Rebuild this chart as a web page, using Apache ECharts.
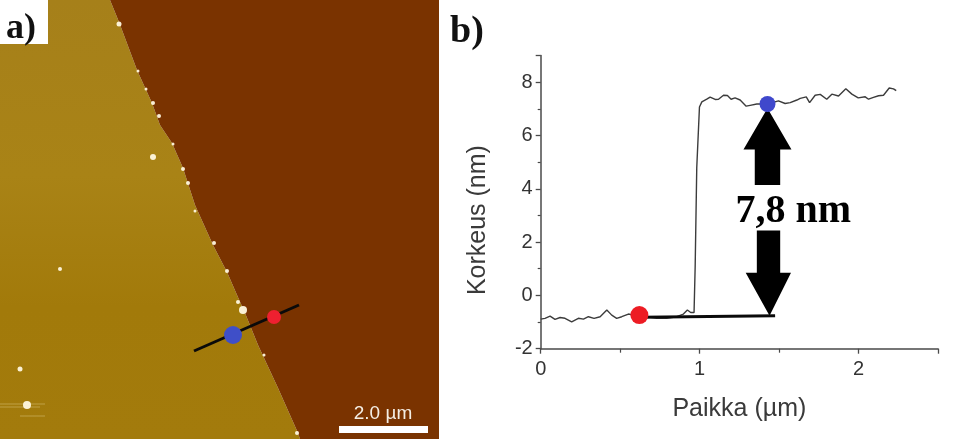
<!DOCTYPE html>
<html><head><meta charset="utf-8">
<style>html,body{margin:0;padding:0;background:#fff}#c{width:968px;height:439px;filter:blur(0.55px)}</style>
<script src="https://cdn.jsdelivr.net/npm/echarts@6/dist/echarts.min.js"></script>
</head><body><div id="c"></div>
<script>
// Panel b: height profile
const profile = [[0,-.89],[.027,-.86],[.059,-.78],[.09,-.9],[.122,-.83],[.153,-.86],[.195,-.99],[.237,-.86],[.269,-.89],[.3,-.8],[.336,-.86],[.374,-.8],[.416,-.55],[.447,-.74],[.478,-.86],[.51,-.8],[.552,-.7],[.583,-.74],[.621,-.74],[.667,-.8],[.73,-.86],[.793,-.86],[.856,-.8],[.898,-.7],[.923,-.55],[.944,-.64],[.965,-.64],[.972,1.08],[.982,4.8],[.999,7.07],[1.014,7.26],[1.045,7.36],[1.066,7.44],[1.098,7.35],[1.119,7.36],[1.15,7.51],[1.175,7.5],[1.198,7.36],[1.223,7.41],[1.255,7.33],[1.293,7.1],[1.318,7.13],[1.36,7.18],[1.427,7.18],[1.496,7.3],[1.538,7.2],[1.57,7.23],[1.612,7.33],[1.633,7.39],[1.671,7.45],[1.692,7.23],[1.727,7.51],[1.759,7.54],[1.8,7.36],[1.832,7.55],[1.874,7.48],[1.92,7.75],[1.958,7.55],[1.998,7.41],[2.042,7.45],[2.063,7.36],[2.094,7.43],[2.126,7.49],[2.157,7.51],[2.193,7.78],[2.22,7.75],[2.237,7.68]];
const baseline = [[.64,-.82],[1.475,-.76]];
const redPoint = [.621,-.74];
const bluePoint = [1.427,7.18];
const upArrow = [[1.427,7.02],[1.578,5.47],[1.507,5.47],[1.507,4.14],[1.347,4.14],[1.347,5.47],[1.276,5.47]];
const downArrow = [[1.36,2.43],[1.507,2.43],[1.507,.85],[1.575,.85],[1.44,-.76],[1.29,.85],[1.36,.85]];
const heightLabel = '7,8 nm';
const heightLabelAt = [1.59,3.15];
const xName = 'Paikka (µm)';
const yName = 'Korkeus (nm)';

// Panel a: AFM image, in image units (0-439)
const goldRegion = [[0,0],[110,0],[119,22],[137,70],[152,103],[160,125],[172,143],[183,168],[195,205],[213,245],[227,272],[237,295],[245,313],[258,345],[278,388],[298,433],[300,439],[0,439]];
const brownRegion = [[110,0],[439,0],[439,439],[300,439],[298,433],[278,388],[258,345],[245,313],[237,295],[227,272],[213,245],[195,205],[183,168],[172,143],[160,125],[152,103],[137,70],[119,22]];
const labelBox = [[0,0],[48,0],[48,44],[0,44]];
const scaleBar = [[339,426],[428,426],[428,433],[339,433]];
const scaleLabel = '2.0 µm';
const scaleLabelAt = [383,414];
const specks = [[119,24,5],[153,157,6],[60,269,4],[20,369,5],[27,405,8],[243,310,8],[138,71,3],[146,89,3],[153,103,4],[159,116,4],[173,144,3],[183,169,4],[188,183,4],[195,211,3],[214,243,4],[227,271,4],[238,302,4],[264,355,3],[297,433,4]];
const streaks = [[[0,404],[45,404]],[[0,407],[40,407]],[[20,416],[45,416]]];
const traverse = [[194,351],[299,305]];
const traverseBlue = [233,335];
const traverseRed = [274,317];

function poly(pts, fill, grid, z){
  return {type:'custom',xAxisIndex:grid,yAxisIndex:grid,silent:true,z:z,clip:false,data:[0],
    renderItem:(p,api)=>({type:'polygon',shape:{points:pts.map(q=>api.coord(q))},style:{fill:fill}})};
}
const goldFill = {type:'linear',x:0,y:0,x2:0,y2:1,colorStops:[{offset:0,color:'#a6801a'},{offset:.4,color:'#a98316'},{offset:.7,color:'#a27a0a'},{offset:1,color:'#a37b0c'}]};
const chart = echarts.init(document.getElementById('c'));
const darkAxis = {lineStyle:{color:'#4a4a4a',width:1.5}};
const op1 = {opacity:1};
chart.setOption({
  animation:false,
  backgroundColor:'#fff',
  title:[
    {text:'a)',left:1,top:6,textStyle:{fontFamily:'Liberation Serif',fontWeight:'bold',fontSize:36,color:'#111'}},
    {text:'b)',left:445,top:8,textStyle:{fontFamily:'Liberation Serif',fontWeight:'bold',fontSize:38,color:'#111'}}
  ],
  grid:[
    {left:0,top:0,width:439,height:439,show:false},
    {left:540.7,top:55.5,width:397.3,height:293.2,show:false}
  ],
  xAxis:[
    {gridIndex:0,type:'value',min:0,max:439,show:false},
    {gridIndex:1,type:'value',min:0,max:2.5,interval:1,axisLine:{show:true,onZero:false,...darkAxis},
      axisTick:{show:true,length:5,lineStyle:{color:'#4a4a4a',width:1.3}},
      minorTick:{show:true,splitNumber:2,length:4,lineStyle:{color:'#4a4a4a',width:1.2}},splitLine:{show:false},
      axisLabel:{showMaxLabel:false,margin:11,fontFamily:'Liberation Sans',fontSize:20,color:'#333',formatter:v=>Number.isInteger(v)?String(v):''},
      name:xName,nameLocation:'middle',nameGap:48,nameTextStyle:{fontFamily:'Liberation Sans',fontSize:25,color:'#3a3a3a'}}
  ],
  yAxis:[
    {gridIndex:0,type:'value',min:0,max:439,inverse:true,show:false},
    {gridIndex:1,type:'value',min:-2,max:9,interval:2,axisLine:{show:true,onZero:false,...darkAxis},
      axisTick:{show:true,length:5,lineStyle:{color:'#4a4a4a',width:1.3}},
      minorTick:{show:true,splitNumber:2,length:3,lineStyle:{color:'#4a4a4a',width:1.2}},splitLine:{show:false},
      axisLabel:{showMaxLabel:false,margin:8,fontFamily:'Liberation Sans',fontSize:20,color:'#333',formatter:v=>v%2===0?String(v):''},
      name:yName,nameLocation:'middle',nameGap:50,nameTextStyle:{fontFamily:'Liberation Sans',fontSize:25,color:'#3a3a3a',padding:[0,36,0,0]}}
  ],
  series:[
    poly(goldRegion,goldFill,0,1),
    poly(brownRegion,'#7a3300',0,1),
    ...streaks.map(s=>({type:'line',xAxisIndex:0,yAxisIndex:0,silent:true,z:2,symbol:'none',data:s,lineStyle:{color:'#d8c27a',width:1,opacity:.55}})),
    {type:'scatter',xAxisIndex:0,yAxisIndex:0,silent:true,z:3,data:specks.map(s=>[s[0],s[1]]),symbolSize:(v,p)=>specks[p.dataIndex][2],itemStyle:{color:'#fff8e0',opacity:.95}},
    {type:'line',xAxisIndex:0,yAxisIndex:0,silent:true,z:4,symbol:'none',data:traverse,lineStyle:{color:'#0a0a0a',width:3}},
    {type:'scatter',xAxisIndex:0,yAxisIndex:0,silent:true,z:5,data:[traverseBlue],symbolSize:18,itemStyle:{color:'#3f4fc8',...op1}},
    {type:'scatter',xAxisIndex:0,yAxisIndex:0,silent:true,z:5,data:[traverseRed],symbolSize:14,itemStyle:{color:'#ee2030',...op1}},
    poly(labelBox,'#ffffff',0,6),
    poly(scaleBar,'#ffffff',0,6),
    {type:'scatter',xAxisIndex:0,yAxisIndex:0,silent:true,z:6,data:[scaleLabelAt],symbolSize:0,itemStyle:op1,
      label:{show:true,position:'inside',formatter:scaleLabel,fontFamily:'Liberation Sans',fontSize:19,color:'#f4eee4'}},

    {type:'line',xAxisIndex:1,yAxisIndex:1,silent:true,z:3,symbol:'none',data:profile,lineStyle:{color:'#3c3c3c',width:1.4}},
    {type:'line',xAxisIndex:1,yAxisIndex:1,silent:true,z:4,symbol:'none',data:baseline,lineStyle:{color:'#0a0a0a',width:3}},
    poly(upArrow,'#000',1,4),
    poly(downArrow,'#000',1,4),
    {type:'scatter',xAxisIndex:1,yAxisIndex:1,silent:true,z:5,data:[redPoint],symbolSize:18,itemStyle:{color:'#ed1c24',...op1}},
    {type:'scatter',xAxisIndex:1,yAxisIndex:1,silent:true,z:5,data:[bluePoint],symbolSize:16,itemStyle:{color:'#3f48cc',...op1}},
    {type:'scatter',xAxisIndex:1,yAxisIndex:1,silent:true,z:6,data:[heightLabelAt],symbolSize:0,itemStyle:op1,
      label:{show:true,position:'inside',formatter:heightLabel,fontFamily:'Liberation Serif',fontWeight:'bold',fontSize:40,color:'#000'}}
  ]
});
</script></body></html>
